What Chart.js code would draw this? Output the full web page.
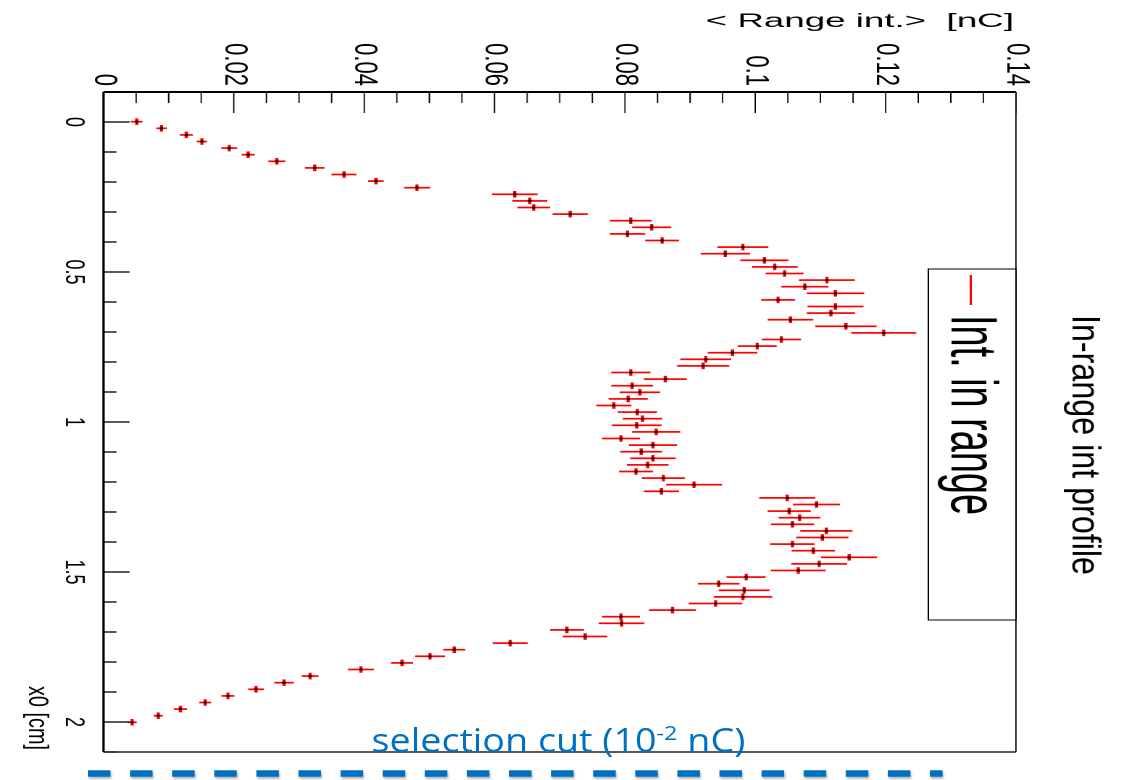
<!DOCTYPE html>
<html>
<head>
<meta charset="utf-8">
<script src="https://cdn.jsdelivr.net/npm/chart.js@4/dist/chart.umd.min.js"></script>
<style>
html,body{margin:0;padding:0;background:#fff;overflow:hidden;}
#page{position:relative;width:1132px;height:780px;overflow:hidden;background:#fff;}
#rot{position:absolute;left:0;top:0;width:780px;height:781px;transform-origin:0 0;
     transform:translate(1132px,0) rotate(90deg) scaleY(1.449424);}
#c{display:block;}
#ann{position:absolute;left:0;top:0;}
</style>
</head>
<body>
<div id="page">
  <div id="rot"><canvas id="c" width="780" height="781"></canvas></div>
  <svg id="ann" width="1132" height="780" xmlns="http://www.w3.org/2000/svg">
    <defs>
      <filter id="sh" filterUnits="userSpaceOnUse" x="60" y="755" width="920" height="40">
        <feDropShadow dx="1" dy="2" stdDeviation="1.2" flood-color="#000" flood-opacity="0.3"/>
      </filter>
    </defs>
    <line x1="88" y1="773.5" x2="942.6" y2="773.5" stroke="#0070C0" stroke-width="6.5" stroke-dasharray="22.5 19.6" filter="url(#sh)"/>
    <text x="371.6" y="752" font-family="Open Sans" font-size="32" fill="#0070C0" textLength="373.7" lengthAdjust="spacingAndGlyphs">selection cut (10<tspan dy="-12" font-size="20">-2</tspan><tspan dy="12"> nC)</tspan></text>
  </svg>
</div>
<script>
// ---- data (x0 in cm, <Range int.> in nC) ----
const x0 = [-0.001, 0.021, 0.043, 0.065, 0.087, 0.109, 0.131, 0.153, 0.175, 0.197,
  0.219, 0.241, 0.263, 0.285, 0.307, 0.329, 0.351, 0.373, 0.395, 0.417,
  0.439, 0.461, 0.483, 0.505, 0.527, 0.549, 0.571, 0.593, 0.615, 0.637,
  0.659, 0.681, 0.703, 0.725, 0.747, 0.769, 0.791, 0.813, 0.835, 0.857,
  0.879, 0.901, 0.923, 0.945, 0.967, 0.989, 1.011, 1.033, 1.055, 1.077,
  1.099, 1.121, 1.143, 1.165, 1.187, 1.209, 1.231, 1.253, 1.275, 1.297,
  1.319, 1.341, 1.363, 1.385, 1.407, 1.429, 1.451, 1.473, 1.495, 1.517,
  1.539, 1.561, 1.583, 1.605, 1.627, 1.649, 1.671, 1.693, 1.715, 1.737,
  1.759, 1.781, 1.803, 1.825, 1.847, 1.869, 1.891, 1.913, 1.935, 1.957,
  1.979, 2.001];
const rangeInt = [0.0051, 0.0089, 0.0127, 0.0151, 0.0193, 0.0222, 0.0266, 0.0324, 0.0369, 0.0418,
  0.0481, 0.0631, 0.0654, 0.0660, 0.0716, 0.0809, 0.0841, 0.0804, 0.0857, 0.0981,
  0.0954, 0.1014, 0.1030, 0.1045, 0.1110, 0.1076, 0.1123, 0.1035, 0.1123, 0.1116,
  0.1054, 0.1139, 0.1197, 0.1040, 0.1003, 0.0965, 0.0924, 0.0920, 0.0809, 0.0862,
  0.0811, 0.0823, 0.0805, 0.0783, 0.0819, 0.0827, 0.0818, 0.0848, 0.0794, 0.0843,
  0.0825, 0.0843, 0.0835, 0.0817, 0.0859, 0.0906, 0.0856, 0.1049, 0.1094, 0.1052,
  0.1068, 0.1057, 0.1109, 0.1103, 0.1057, 0.1089, 0.1144, 0.1098, 0.1066, 0.0986,
  0.0944, 0.0983, 0.0981, 0.0939, 0.0873, 0.0794, 0.0795, 0.0711, 0.0739, 0.0624,
  0.0538, 0.0501, 0.0458, 0.0395, 0.0317, 0.0277, 0.0234, 0.0191, 0.0156, 0.0118,
  0.0084, 0.0044];
const rangeErr = [0.0009, 0.0008, 0.0010, 0.0008, 0.0012, 0.0010, 0.0013, 0.0015, 0.0019, 0.0012,
  0.0020, 0.0035, 0.0027, 0.0025, 0.0027, 0.0032, 0.0030, 0.0027, 0.0026, 0.0039,
  0.0038, 0.0037, 0.0035, 0.0029, 0.0043, 0.0036, 0.0044, 0.0026, 0.0043, 0.0037,
  0.0035, 0.0047, 0.0050, 0.0030, 0.0030, 0.0038, 0.0039, 0.0040, 0.0030, 0.0033,
  0.0032, 0.0031, 0.0030, 0.0027, 0.0030, 0.0030, 0.0038, 0.0037, 0.0029, 0.0037,
  0.0032, 0.0035, 0.0032, 0.0026, 0.0033, 0.0043, 0.0027, 0.0043, 0.0036, 0.0033,
  0.0032, 0.0033, 0.0040, 0.0040, 0.0034, 0.0033, 0.0043, 0.0043, 0.0042, 0.0030,
  0.0032, 0.0039, 0.0045, 0.0041, 0.0036, 0.0029, 0.0035, 0.0026, 0.0034, 0.0027,
  0.0017, 0.0023, 0.0017, 0.0020, 0.0013, 0.0015, 0.0012, 0.0010, 0.0009, 0.0010,
  0.0007, 0.0007];
const binHalfWidth = 0.011;
const xTickValues = [0, 0.5, 1, 1.5, 2];
const xTickLabels = ['0', '0.5', '1', '1.5', '2'];
const yTickValues = [0, 0.02, 0.04, 0.06, 0.08, 0.1, 0.12, 0.14];
const yTickLabels = ['0', '0.02', '0.04', '0.06', '0.08', '0.1', '0.12', '0.14'];
const titleText = 'In-range int profile';
const legendText = 'Int. in range';
const xTitle = 'x0 [cm]';
const yTitle = '< Range int.>  [nC]';

// ---- layout (unrotated frame; element is stretched by S along its height) ----
const S = 1132 / 781;
const W = 780, H = 781;
const PLOT_TOP = 116 / S, PLOT_BOTTOM = 1028.5 / S, PLOT_LEFT = 92, PLOT_RIGHT = 752;
const FONT = '"Liberation Sans", Arial, sans-serif';

function fitText(ctx, text, x, y, size, width, align, rot) {
  ctx.save();
  ctx.font = size + 'px ' + FONT;
  const w = ctx.measureText(text).width;
  ctx.translate(x, y);
  if (rot) ctx.rotate(rot);
  ctx.scale(width / w, 1);
  ctx.textAlign = 'left';
  ctx.textBaseline = 'alphabetic';
  const sx = align === 'right' ? -w : (align === 'center' ? -w / 2 : 0);
  ctx.fillText(text, sx, 0);
  ctx.restore();
}

const rootPlugin = {
  id: 'rootStyle',
  beforeDatasetsDraw(chart) {
    const {ctx, chartArea: a, scales: {x, y}} = chart;
    ctx.save();
    ctx.beginPath();
    ctx.rect(a.left, a.top, a.right - a.left, a.bottom - a.top);
    ctx.clip();
    ctx.strokeStyle = '#ff0000';
    for (let i = 0; i < x0.length; i++) {
      const px = x.getPixelForValue(x0[i]);
      const py = y.getPixelForValue(rangeInt[i]);
      ctx.lineWidth = 1.7;
      ctx.beginPath();
      ctx.moveTo(px, y.getPixelForValue(rangeInt[i] - rangeErr[i]));
      ctx.lineTo(px, y.getPixelForValue(rangeInt[i] + rangeErr[i]));
      ctx.stroke();
      ctx.lineWidth = 2.2;
      ctx.beginPath();
      ctx.moveTo(x.getPixelForValue(x0[i] - binHalfWidth), py);
      ctx.lineTo(x.getPixelForValue(x0[i] + binHalfWidth), py);
      ctx.stroke();
    }
    ctx.restore();
  },
  afterDraw(chart) {
    const {ctx, chartArea: a, scales: {x, y}} = chart;
    ctx.save();
    ctx.strokeStyle = '#000';
    // frame: thin sides
    ctx.lineWidth = 0.9;
    ctx.beginPath(); ctx.moveTo(a.left, a.top); ctx.lineTo(a.right, a.top); ctx.stroke();
    ctx.lineWidth = 1.3;
    ctx.beginPath(); ctx.moveTo(a.right, a.top); ctx.lineTo(a.right, a.bottom); ctx.stroke();
    // axes: thicker
    ctx.lineWidth = 2.0;
    ctx.beginPath(); ctx.moveTo(a.left, a.top); ctx.lineTo(a.left, a.bottom); ctx.stroke();
    ctx.lineWidth = 1.6;
    ctx.beginPath(); ctx.moveTo(a.left, a.bottom); ctx.lineTo(a.right, a.bottom); ctx.stroke();
    // x-axis ticks (inward)
    ctx.lineWidth = 1.3;
    ctx.beginPath();
    for (let k = -1; k <= 21; k++) {
      const px = x.getPixelForValue(k / 10);
      const len = (k % 5 === 0) ? 26 / S : 13 / S;
      ctx.moveTo(px, a.bottom); ctx.lineTo(px, a.bottom - len);
    }
    ctx.stroke();
    // y-axis ticks (inward)
    ctx.lineWidth = 1.3 / S;
    ctx.beginPath();
    for (let k = 0; k <= 28; k++) {
      const py = y.getPixelForValue(k * 0.005);
      const len = (k % 4 === 0) ? 21 : 11;
      ctx.moveTo(a.left, py); ctx.lineTo(a.left + len, py);
    }
    ctx.stroke();
    ctx.restore();

    // texts
    ctx.save();
    ctx.fillStyle = '#000';
    fitText(ctx, titleText, 315, 40.9, 28, 260, 'left');
    fitText(ctx, xTitle, 750, 760.9, 19, 64, 'right');
    fitText(ctx, yTitle, 27, 294.1, 19, 212.6, 'left', -Math.PI / 2);
    // legend
    ctx.strokeStyle = '#000';
    ctx.lineWidth = 1;
    ctx.strokeRect(269, a.top, 620 - 269, 140.5 - a.top);
    ctx.strokeStyle = '#ff0000';
    ctx.lineWidth = 1.5;
    ctx.beginPath(); ctx.moveTo(275, 111.3); ctx.lineTo(305, 111.3); ctx.stroke();
    fitText(ctx, legendText, 315, 124.4, 45, 200, 'left');
    ctx.restore();
  }
};

new Chart(document.getElementById('c'), {
  type: 'scatter',
  data: {
    datasets: [{
      label: legendText,
      data: x0.map((v, i) => ({x: v, y: rangeInt[i]})),
      pointStyle: 'rect',
      pointRadius: 1.5,
      pointHoverRadius: 1.5,
      pointBackgroundColor: '#000',
      pointBorderWidth: 0,
      showLine: false
    }]
  },
  options: {
    responsive: false,
    animation: false,
    devicePixelRatio: 2,
    events: [],
    layout: {padding: {top: PLOT_TOP, right: W - PLOT_RIGHT, left: 0, bottom: 0}},
    plugins: {legend: {display: false}, title: {display: false}, tooltip: {enabled: false}},
    scales: {
      x: {
        type: 'linear', position: 'bottom', min: -0.1, max: 2.1,
        afterBuildTicks: s => { s.ticks = xTickValues.map(v => ({value: v})); },
        afterFit: s => { s.height = H - PLOT_BOTTOM; },
        grid: {display: false, drawTicks: false},
        border: {display: false},
        ticks: {
          autoSkip: false, maxRotation: 0, minRotation: 0, padding: 10,
          color: '#000', font: {family: 'Liberation Sans', size: 18},
          callback: (v, i) => xTickLabels[i]
        }
      },
      y: {
        type: 'linear', position: 'left', min: 0, max: 0.14,
        afterBuildTicks: s => { s.ticks = yTickValues.map(v => ({value: v})); },
        afterFit: s => { s.width = PLOT_LEFT; },
        grid: {display: false, drawTicks: false},
        border: {display: false},
        ticks: {
          autoSkip: false, padding: 6,
          color: '#000', font: {family: 'Liberation Sans', size: 22},
          callback: (v, i) => yTickLabels[i]
        }
      }
    }
  },
  plugins: [rootPlugin]
});
</script>
</body>
</html>
